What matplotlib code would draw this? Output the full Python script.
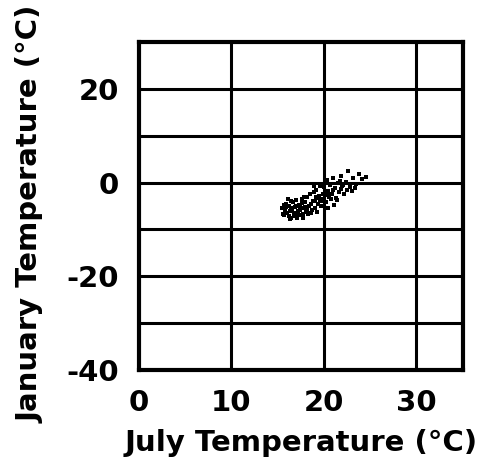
import matplotlib.pyplot as plt

# July / January mean temperatures (deg C)
july = [15.5, 15.7, 15.9, 16.0, 16.2, 16.3, 16.5, 16.6, 16.8, 16.9,
        17.0, 17.1, 17.3, 17.4, 17.6, 17.7, 17.8, 18.0, 18.1, 18.2,
        18.4, 18.5, 18.6, 18.8, 18.9, 19.0, 19.1, 19.2, 19.4, 19.5,
        19.6, 19.7, 19.9, 20.0, 20.1, 20.2, 20.3, 20.5, 20.6, 20.7,
        20.9, 21.0, 21.2, 21.3, 21.5, 21.6, 21.8, 22.0, 22.2, 22.4,
        22.6, 22.8, 23.0, 23.2, 23.5, 23.8, 24.1, 24.6, 15.8, 16.4,
        17.2, 17.5, 18.3, 18.7, 19.3, 19.8, 20.4, 21.1, 21.4, 22.5,
        16.1, 16.7, 17.9, 19.0, 20.8, 22.1, 23.4, 18.9, 19.6, 21.7,
        15.6, 15.9, 16.2, 16.5, 16.8, 17.1, 17.4, 17.7, 18.0, 18.6,
        19.2, 19.9, 20.5, 21.0, 21.9, 15.7, 16.3, 17.0, 17.6, 18.2]
january = [-5.5, -7.0, -4.5, -6.5, -5.0, -7.8, -4.0, -6.0, -7.2, -5.2,
           -3.8, -6.8, -4.8, -5.8, -3.5, -7.5, -5.5, -4.2, -6.2, -3.0,
           -5.0, -2.5, -6.5, -4.0, -2.0, -5.5, -3.2, -1.5, -4.5, -2.8,
           -0.8, -5.0, -3.5, -1.0, -2.2, -4.2, 0.5, -1.8, -3.0, -0.5,
           -2.5, 1.0, -1.2, -3.2, 0.0, -2.0, 1.5, -0.8, -2.5, 0.2,
           2.5, -1.0, -1.8, 1.0, -0.2, 1.8, 0.8, 1.2, -6.0, -7.5,
           -6.0, -7.0, -6.8, -5.8, -6.2, -4.0, -5.5, -4.8, -3.8, -1.5,
           -3.5, -4.2, -3.0, -4.0, -3.6, -0.5, -1.2, -0.8, -3.8, 0.3,
           -6.8, -5.2, -7.2, -5.5, -6.4, -7.6, -5.0, -6.6, -5.2, -4.6,
           -3.0, -2.5, -2.6, -1.6, -1.4, -4.8, -6.0, -5.0, -4.4, -5.8]

x_ticks = [0, 10, 20, 30]
y_ticks = [-40, -20, 0, 20]

plt.rcParams["font.family"] = ["DejaVu Sans"]
plt.rcParams["font.weight"] = "bold"
plt.rcParams["axes.unicode_minus"] = False

fig = plt.figure(figsize=(4.87, 4.72), dpi=100)
ax = fig.add_axes([0.285, 0.216, 0.665, 0.695])

ax.scatter(july, january, s=5, marker="s", color="k", linewidths=0)

ax.set_xlim(0, 35)
ax.set_ylim(-40, 30)
for v in range(10, 35, 10):
    ax.axvline(v, color="k", lw=2.2, zorder=0)
for v in range(-30, 30, 10):
    ax.axhline(v, color="k", lw=2.2, zorder=0)

ax.set_xticks(x_ticks)
ax.set_yticks(y_ticks)
ax.tick_params(length=0, pad=14, labelsize=21)
for sp in ax.spines.values():
    sp.set_linewidth(3)

ax.set_xlabel("July Temperature (°C)", fontsize=21, fontweight="bold", labelpad=8)
ax.set_ylabel("January Temperature (°C)", fontsize=21, fontweight="bold")
ax.yaxis.set_label_coords(-0.29, 0.476)

fig.savefig("out.png", dpi=100)
